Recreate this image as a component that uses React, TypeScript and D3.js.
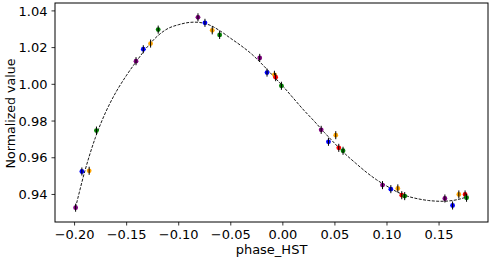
import { useMemo } from 'react';
import * as d3 from 'd3';

// observations, grouped by visit colour
const purplePhase = [-0.199, -0.141, -0.0815, -0.0222, 0.0368, 0.0957, 0.1556];
const purpleValue = [0.9328, 1.0126, 1.0365, 1.0144, 0.9752, 0.9451, 0.9378];
const bluePhase = [-0.193, -0.134, -0.0748, -0.0152, 0.0438, 0.1037, 0.163];
const blueValue = [0.9525, 1.0191, 1.0335, 1.0064, 0.9687, 0.9429, 0.934];
const orangePhase = [-0.186, -0.127, -0.0678, -0.0081, 0.0508, 0.1104, 0.169];
const orangeValue = [0.9529, 1.0222, 1.0294, 1.0052, 0.9723, 0.9433, 0.94];
const redPhase = [-0.0069, 0.0537, 0.1142, 0.175];
const redValue = [1.0039, 0.9654, 0.9396, 0.94];
const greenPhase = [-0.179, -0.1197, -0.0607, -0.0014, 0.0578, 0.117, 0.1764];
const greenValue = [0.9748, 1.0298, 1.0269, 0.9992, 0.9638, 0.9391, 0.9382];
const errorHalf = 0.0022;

// model curve
const modelPhase = [-0.199, -0.19, -0.18, -0.17, -0.16, -0.15, -0.14, -0.13, -0.12, -0.11, -0.1, -0.09, -0.08, -0.07, -0.06, -0.05, -0.04, -0.03, -0.02, -0.01, 0.0, 0.01, 0.02, 0.03, 0.04, 0.05, 0.06, 0.07, 0.08, 0.09, 0.1, 0.11, 0.12, 0.13, 0.14, 0.15, 0.16, 0.17, 0.178];
const modelValue = [0.933, 0.953, 0.971, 0.985, 0.996, 1.005, 1.013, 1.0205, 1.0265, 1.0305, 1.0325, 1.0337, 1.0337, 1.0322, 1.029, 1.025, 1.021, 1.0165, 1.011, 1.005, 0.999, 0.9925, 0.986, 0.98, 0.9737, 0.9677, 0.962, 0.957, 0.9522, 0.948, 0.9445, 0.9413, 0.939, 0.9376, 0.9367, 0.9363, 0.9365, 0.9375, 0.939];

const xTicks = [-0.2, -0.15, -0.1, -0.05, 0.0, 0.05, 0.1, 0.15];
const yTicks = [0.94, 0.96, 0.98, 1.0, 1.02, 1.04];

const series = [
  { color: '#800080', phase: purplePhase, value: purpleValue },
  { color: '#0000ff', phase: bluePhase, value: blueValue },
  { color: '#ffa500', phase: orangePhase, value: orangeValue },
  { color: '#ff0000', phase: redPhase, value: redValue },
  { color: '#008000', phase: greenPhase, value: greenValue },
];

const W = 491;
const H = 260;
const margin = { top: 3, right: 3, bottom: 38, left: 55 };
const font = 'DejaVu Sans, sans-serif';

export default function App() {
  const innerW = W - margin.left - margin.right;
  const innerH = H - margin.top - margin.bottom;

  const x = useMemo(() => d3.scaleLinear().domain([-0.2188, 0.197]).range([0, innerW]), [innerW]);
  const y = useMemo(() => d3.scaleLinear().domain([0.925, 1.0443]).range([innerH, 0]), [innerH]);

  const modelPath = d3.line<number>()
    .x((_, i) => x(modelPhase[i]))
    .y(d => y(d))
    .curve(d3.curveCatmullRom)(modelValue) || '';

  const fmtX = (v: number) => d3.format('.2f')(v);

  return (
    <svg width={W} height={H} style={{ position: 'absolute', left: 0, top: 0, background: '#fff' }} fontFamily={font}>
      <g transform={`translate(${margin.left},${margin.top})`}>
        <path d={modelPath} fill="none" stroke="#000" strokeWidth={0.9} strokeDasharray="3,1.4" />

        {series.map(s => s.phase.map((p, i) => (
          <g key={s.color + i}>
            <circle cx={x(p)} cy={y(s.value[i])} r={2.4} fill={s.color} />
            <line x1={x(p)} x2={x(p)} y1={y(s.value[i] - errorHalf)} y2={y(s.value[i] + errorHalf)} stroke="#000" strokeWidth={1} />
          </g>
        )))}

        <rect x={0} y={0} width={innerW} height={innerH} fill="none" stroke="#000" strokeWidth={1} />

        {xTicks.map(t => (
          <g key={t} transform={`translate(${x(t)},${innerH})`}>
            <line y1={0} y2={3.5} stroke="#000" strokeWidth={0.8} />
            <text y={16.5} textAnchor="middle" fontSize={13} fill="#000">{fmtX(t)}</text>
          </g>
        ))}
        {yTicks.map(t => (
          <g key={t} transform={`translate(0,${y(t)})`}>
            <line x1={-3.5} x2={0} stroke="#000" strokeWidth={0.8} />
            <text x={-7.5} dy="0.36em" textAnchor="end" fontSize={13} fill="#000">{t.toFixed(2)}</text>
          </g>
        ))}

        <text x={innerW / 2} y={innerH + 32} textAnchor="middle" fontSize={13} fill="#000">phase_HST</text>
        <text transform={`translate(${-40},${innerH / 2 + 1}) rotate(-90)`} textAnchor="middle" fontSize={12.6} fill="#000">Normalized value</text>
      </g>
    </svg>
  );
}
